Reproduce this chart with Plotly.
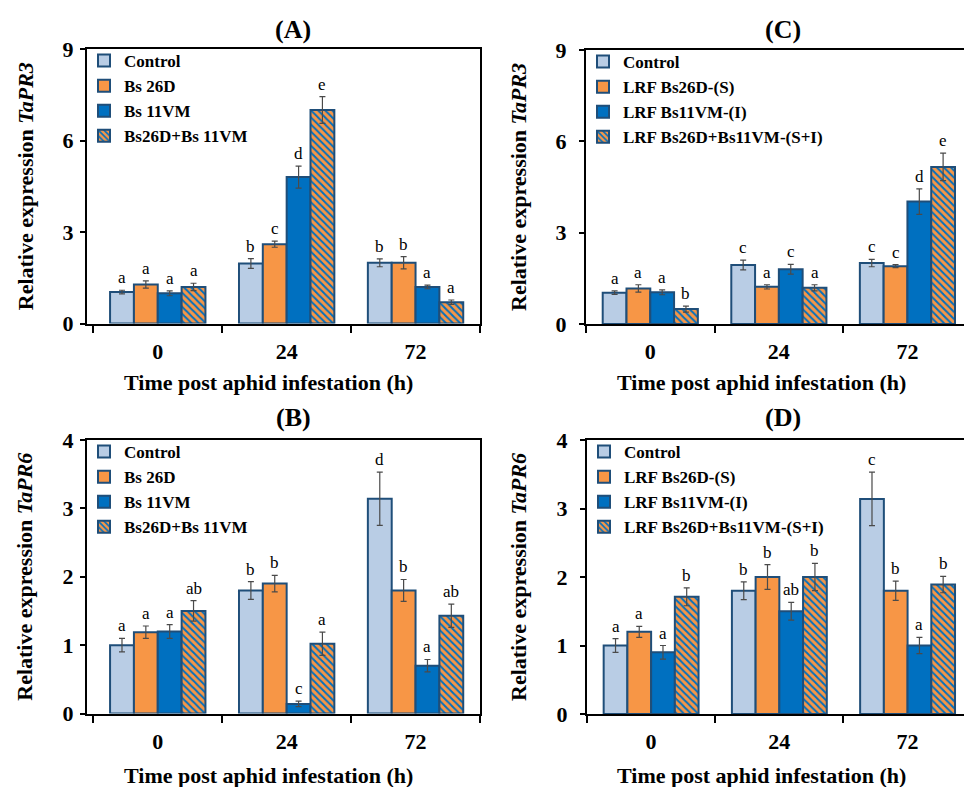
import plotly.graph_objects as go

# ---------------- data ----------------
hours = ["0", "24", "72"]
series_ab = ["Control", "Bs 26D", "Bs 11VM", "Bs26D+Bs 11VM"]
series_cd = ["Control", "LRF Bs26D-(S)", "LRF Bs11VM-(I)", "LRF Bs26D+Bs11VM-(S+I)"]

# Panel A: TaPR3, Bs strains
a_control = [1.03, 1.97, 1.99]
a_control_err = [0.06, 0.16, 0.13]
a_bs26d = [1.28, 2.60, 1.99]
a_bs26d_err = [0.12, 0.10, 0.20]
a_bs11vm = [0.99, 4.80, 1.20]
a_bs11vm_err = [0.08, 0.36, 0.06]
a_combo = [1.20, 7.00, 0.70]
a_combo_err = [0.12, 0.44, 0.07]
a_letters = [["a", "b", "b"], ["a", "c", "b"], ["a", "d", "a"], ["a", "e", "a"]]

# Panel B: TaPR6, Bs strains
b_control = [1.00, 1.80, 3.14]
b_control_err = [0.10, 0.13, 0.39]
b_bs26d = [1.19, 1.90, 1.80]
b_bs26d_err = [0.09, 0.12, 0.16]
b_bs11vm = [1.20, 0.14, 0.70]
b_bs11vm_err = [0.10, 0.04, 0.09]
b_combo = [1.50, 1.02, 1.43]
b_combo_err = [0.15, 0.17, 0.17]
b_letters = [["a", "b", "d"], ["a", "b", "b"], ["a", "c", "a"], ["ab", "a", "ab"]]

# Panel C: TaPR3, LRF
c_control = [1.03, 1.94, 2.00]
c_control_err = [0.06, 0.16, 0.12]
c_s = [1.17, 1.22, 1.90]
c_s_err = [0.12, 0.07, 0.05]
c_i = [1.04, 1.80, 4.02]
c_i_err = [0.08, 0.16, 0.42]
c_si = [0.49, 1.19, 5.16]
c_si_err = [0.10, 0.10, 0.45]
c_letters = [["a", "c", "c"], ["a", "a", "c"], ["a", "c", "d"], ["b", "a", "e"]]

# Panel D: TaPR6, LRF
d_control = [1.00, 1.80, 3.14]
d_control_err = [0.10, 0.13, 0.39]
d_s = [1.20, 2.00, 1.80]
d_s_err = [0.08, 0.18, 0.14]
d_i = [0.90, 1.50, 1.00]
d_i_err = [0.10, 0.13, 0.12]
d_si = [1.71, 2.00, 1.89]
d_si_err = [0.13, 0.20, 0.12]
d_letters = [["a", "b", "c"], ["a", "b", "b"], ["a", "ab", "a"], ["b", "b", "b"]]

panel_titles = ["(A)", "(C)", "(B)", "(D)"]
genes = ["TaPR3", "TaPR3", "TaPR6", "TaPR6"]
x_title = "Time post aphid infestation (h)"

# ---------------- style ----------------
W, H = 964, 787
FONT = "Liberation Serif, Times New Roman, serif"
fill_colors = ["#B9CDE5", "#F79646", "#0070C0", "#F79646"]
OUTLINE = "#1F4E79"
BARGAP = 0.26

def px_x(v):
    return v / W

def px_y(v):
    return 1 - v / H

panels = [
    ("", [a_control, a_bs26d, a_bs11vm, a_combo],
     [a_control_err, a_bs26d_err, a_bs11vm_err, a_combo_err], a_letters, series_ab, "legend",
     (87, 480), (49, 323.5), [-0.549, 2.5], 9, 3),
    ("2", [c_control, c_s, c_i, c_si],
     [c_control_err, c_s_err, c_i_err, c_si_err], c_letters, series_cd, "legend2",
     (586, 964), (50, 324), [-0.5, 2.44], 9, 3),
    ("3", [b_control, b_bs26d, b_bs11vm, b_combo],
     [b_control_err, b_bs26d_err, b_bs11vm_err, b_combo_err], b_letters, series_ab, "legend3",
     (87, 480), (440, 713.5), [-0.549, 2.5], 4, 1),
    ("4", [d_control, d_s, d_i, d_si],
     [d_control_err, d_s_err, d_i_err, d_si_err], d_letters, series_cd, "legend4",
     (587, 964), (440, 714), [-0.5, 2.44], 4, 1),
]

fig = go.Figure()
annotations = []
layout = {}

bar_w = (1 - BARGAP) / 4

for p_i, (suf, vals, errs, letters, names, leg, xd, yd, xr, ymax, dt) in enumerate(panels):
    xa = "x" + suf
    ya = "y" + suf
    left = p_i % 2 == 0
    top = p_i < 2
    for j in range(4):
        marker = dict(color=fill_colors[j], line=dict(color=OUTLINE, width=2))
        if j == 3:
            marker["pattern"] = dict(shape="\\", bgcolor="#F79646", fgcolor="#0070C0",
                                     size=5, solidity=0.4, fillmode="replace")
        fig.add_trace(go.Bar(
            x=hours, y=vals[j], name=names[j], xaxis=xa, yaxis=ya,
            marker=marker, legend=leg,
            error_y=dict(type="data", array=errs[j], visible=True,
                         color="#4A4A4A", thickness=1.2, width=3),
        ))
        for k in range(3):
            annotations.append(dict(
                x=k + (j - 1.5) * bar_w, y=vals[j][k] + errs[j][k],
                xref=xa, yref=ya, text=letters[j][k], showarrow=False,
                yanchor="bottom", yshift=1,
                font=dict(family=FONT, size=17, color="black"),
            ))

    axis_common = dict(showline=True, linecolor="black", linewidth=2, mirror=True,
                       showgrid=False, zeroline=False, automargin=False)
    layout["xaxis" + suf] = dict(
        axis_common, type="category", domain=[px_x(xd[0]), px_x(xd[1])],
        anchor=ya, range=xr, ticks="outside", tickson="boundaries",
        ticklen=7, tickwidth=2, tickcolor="black", ticklabelstandoff=7,
        tickfont=dict(family=FONT, size=22, color="black", weight="bold"),
    )
    layout["yaxis" + suf] = dict(
        axis_common, domain=[px_y(yd[1]), px_y(yd[0])], anchor=xa,
        range=[0, ymax], dtick=dt, ticks="outside", ticklen=5, tickwidth=2,
        tickcolor="black", ticklabelstandoff=2 if left else 8,
        tickfont=dict(family=FONT, size=22, color="black", weight="bold"),
    )
    layout[leg] = dict(
        x=px_x(xd[0] - 3), y=px_y(yd[0] - 6), xanchor="left", yanchor="top",
        bgcolor="rgba(0,0,0,0)", borderwidth=0, tracegroupgap=0,
        font=dict(family=FONT, size=17, color="black", weight="bold"),
        itemclick=False,
    )

    cx_title = 293 if left else 783
    cy_title = 29 if top else 418
    annotations.append(dict(
        x=px_x(cx_title), y=px_y(cy_title), xref="paper", yref="paper",
        text="<b>" + panel_titles[p_i] + "</b>", showarrow=False,
        xanchor="center", yanchor="middle",
        font=dict(family=FONT, size=26, color="black"),
    ))
    cx_xt = 268 if left else 761
    cy_xt = 383 if top else 775
    annotations.append(dict(
        x=px_x(cx_xt), y=px_y(cy_xt), xref="paper", yref="paper",
        text="<b>" + x_title + "</b>", showarrow=False,
        xanchor="center", yanchor="middle",
        font=dict(family=FONT, size=22, color="black"),
    ))
    cx_yt = 25 if left else 518
    cy_yt = (yd[0] + yd[1]) / 2
    annotations.append(dict(
        x=px_x(cx_yt), y=px_y(cy_yt), xref="paper", yref="paper",
        text="<b>Relative expression <i>" + genes[p_i] + "</i></b>", showarrow=False,
        textangle=-90, xanchor="center", yanchor="middle",
        font=dict(family=FONT, size=22, color="black"),
    ))

fig.update_layout(
    width=W, height=H, autosize=False,
    margin=dict(l=0, r=0, t=0, b=0, pad=0),
    paper_bgcolor="white", plot_bgcolor="white",
    barmode="group", bargap=BARGAP, bargroupgap=0,
    annotations=annotations,
    **layout,
)

fig.write_html("out.html", config={"displayModeBar": False},
               post_script="document.body.style.margin='0';")
